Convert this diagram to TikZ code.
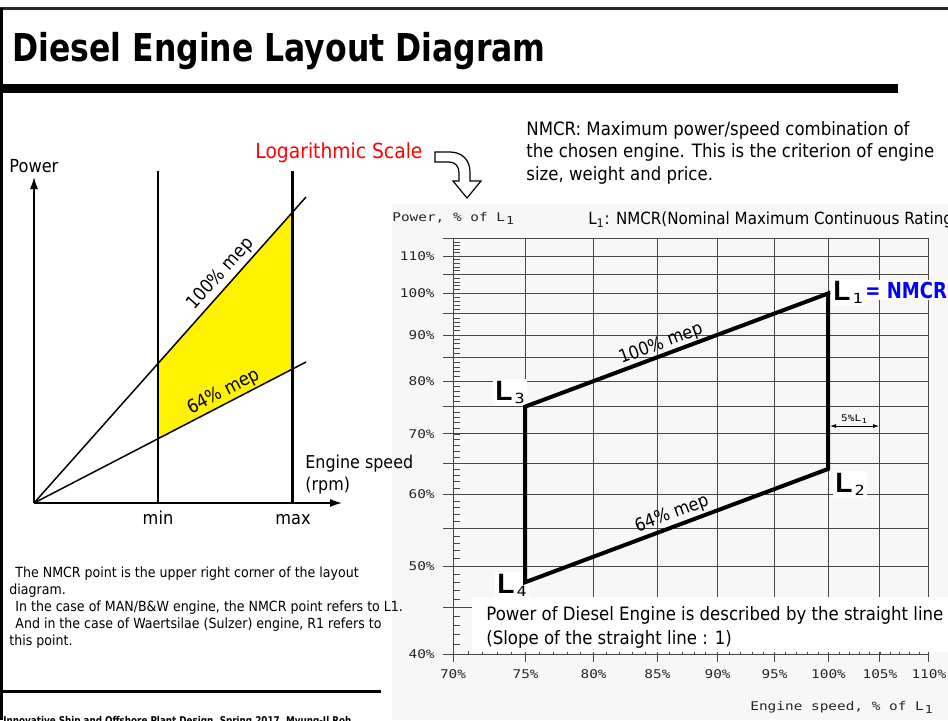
\documentclass[tikz,border=0pt]{standalone}
\usepackage{fontspec}
\usetikzlibrary{arrows.meta}
\newfontfamily\tah[FakeStretch=0.9]{DejaVu Sans}
\newfontfamily\ttl[FakeStretch=0.82]{DejaVu Sans}
\newfontfamily\plt[FakeStretch=1.2]{DejaVu Sans Mono}
\newfontfamily\lfont{Liberation Sans}
\newcommand\fsz[1]{\fontsize{#1}{#1}\selectfont}
\newcommand\lsub[1]{\kern0.5pt\raisebox{-1.6pt}{\plt\fsz{5.5pt}#1}}
\newcommand\bigsub[1]{\kern1pt\raisebox{-1.8pt}{\plt\fsz{7pt}\mdseries#1}}
\tikzset{
  txt/.style={inner sep=0pt, anchor=base west},
  body/.style={txt, font=\tah\fsz{9.2pt}},
  small/.style={txt, font=\tah\fsz{7pt}},
  gridl/.style={draw=black!72, line width=0.5pt},
  plotlab/.style={inner sep=0pt, font=\plt\fsz{6pt}, text=black!85},
  bigL/.style={anchor=base west, inner sep=1pt, fill=white, font=\lfont\bfseries\fsz{14pt}},
  thinline/.style={line width=0.75pt},
  axisarrow/.style={line width=0.75pt, -{Latex[length=6pt,width=4pt]}},
  layout/.style={line width=2pt, line join=miter}
}
\begin{document}
\begin{tikzpicture}[x=0.5pt,y=-0.5pt]
\useasboundingbox (0,0) rectangle (948,720);
\fill[white] (0,0) rectangle (948,720);
\fill[black!3] (392,204) rectangle (948,720);
% frame
\draw[black!85, line width=1.5pt] (0,8.5) -- (948,8.5);
\draw[black, line width=1.6pt] (1.6,8) -- (1.6,720);
\fill[black] (0,84) rectangle (898,93);
\node[txt] (title) at (12,61) {\ttl\bfseries\fsz{19.2pt}Diesel Engine Layout Diagram};

% ---------------- left chart
\coordinate (O) at (34,503);
\coordinate (Ytip) at (34,177);
\coordinate (Xtip) at (342,503);
\coordinate (mintop) at (158,171);
\coordinate (minbot) at (158,503);
\coordinate (maxtop) at (292,171);
\coordinate (maxbot) at (292,503);
\coordinate (m100) at (306,197);
\coordinate (m64) at (306,362);
\fill[yellow] (158,363.5) -- (292,212.7) -- (292,369.3) -- (158,438.7) -- cycle;
\draw[thinline] (O) -- (m100);
\draw[thinline] (O) -- (m64);
\draw[line width=1pt] (mintop) -- (minbot);
\draw[line width=1.5pt] (maxtop) -- (maxbot);
\draw[axisarrow] (O) -- (Ytip);
\draw[axisarrow] (O) -- (Xtip);
\node[txt, font=\tah\fsz{9pt}] (power) at (9,172) {Power};
\node[txt, font=\tah\fsz{8.85pt}] (espeed) at (305,468) {Engine speed};
\node[txt, font=\tah\fsz{8.85pt}] (rpm) at (305,490) {(rpm)};
\node[inner sep=0pt, anchor=base, font=\tah\fsz{9pt}] (min) at (158,524) {min};
\node[inner sep=0pt, anchor=base, font=\tah\fsz{9pt}] (max) at (293,524) {max};
\node[inner sep=0pt, rotate=48.4, font=\tah\fsz{9.2pt}] (lab100) at (221,274) {100\% mep};
\node[inner sep=0pt, rotate=27.4, font=\tah\fsz{9.2pt}] (lab64) at (224,392) {64\% mep};

% ---------------- logarithmic scale and hollow arrow
\node[txt, font=\tah\fsz{10.4pt}, text=red] (logs) at (255,158) {Logarithmic Scale};
\draw[line width=0.6pt, fill=white] (435,152) -- (450,152) .. controls (462,152) and (470,160) .. (470,172) -- (470,181) -- (481,181) -- (467,198) -- (453,181) -- (459,181) -- (459,173) .. controls (459,166) and (455,162) .. (449,162) -- (435,162) -- cycle;

% ---------------- NMCR text
\node[body] (n1) at (526,135) {NMCR: Maximum power/speed combination of};
\node[body] (n2) at (526,157.5) {the chosen engine. This is the criterion of engine};
\node[body] (n3) at (526,180) {size, weight and price.};
\node[txt, font=\tah\fsz{8.4pt}] (l1def) at (588,224) {L\textsubscript{1}: NMCR(Nominal Maximum Continuous Rating};

% ---------------- right chart grid
\foreach \s in {75,80,85,90,95,100,105,110}{
  \pgfmathsetmacro\xx{453+1053*ln(\s/70)}
  \draw[gridl] (\xx,238) -- (\xx,662);
}
\draw[gridl] (453,238) -- (453,662);
\foreach \pp in {40,45,...,110}{
  \pgfmathsetmacro\yy{654-393.4*ln(\pp/40)}
  \draw[gridl] (443,\yy) -- (929,\yy);
}
\draw[gridl] (443,238) -- (929,238);
\foreach \pp in {41,...,115}{
  \pgfmathsetmacro\yy{654-393.4*ln(\pp/40)}
  \draw[gridl, line width=0.35pt] (453,\yy) -- (460,\yy);
}
\foreach \s in {71,...,109}{
  \pgfmathsetmacro\xx{453+1053*ln(\s/70)}
  \draw[gridl, line width=0.35pt] (\xx,654) -- (\xx,650.5);
}
\foreach \pp in {40,50,...,110}{
  \pgfmathsetmacro\yy{654-393.4*ln(\pp/40)}
  \node[plotlab, anchor=east] (yl\pp) at (435,\yy) {\pp\%};
}
\foreach \s in {70,75,...,110}{
  \pgfmathsetmacro\xx{453+1053*ln(\s/70)}
  \node[plotlab, anchor=base] (xl\s) at (\xx,678) {\s\%};
}
\node[plotlab, anchor=base west] (ptitle) at (392,221) {Power, \% of L\lsub{1}};
\node[plotlab, anchor=base west] (stitle) at (750,710) {Engine speed, \% of L\lsub{1}};

% white box for text
\fill[white] (472,597) rectangle (948,652);
\node[body] (d1) at (486,620.5) {Power of Diesel Engine is described by the straight line};
\node[body] (d2) at (486,644) {(Slope of the straight line : 1)};

% ---------------- layout diagram
\coordinate (L1c) at (828,293.5);
\coordinate (L2c) at (828,469);
\coordinate (L3c) at (525,406.7);
\coordinate (L4c) at (525,582.3);
\node[bigL] (L1) at (831,300) {L\bigsub{1}};
\node[bigL] (L2) at (833,492) {L\bigsub{2}};
\node[bigL] (L3) at (493,400) {L\bigsub{3}};
\node[bigL] (L4) at (495,593) {L\bigsub{4}};
\node[txt, inner sep=1pt, fill=white, font=\ttl\bfseries\fsz{11pt}, text=blue] (nmcr) at (863,298) {= NMCR};
\draw[layout] (L1c) -- (L2c) -- (L4c) -- (L3c) -- cycle;
\node[inner sep=0pt, rotate=20.5, font=\tah\fsz{9pt}] (r100) at (661,344) {100\% mep};
\node[inner sep=0pt, rotate=20.5, font=\tah\fsz{9pt}] (r64) at (672,514) {64\% mep};

% 5% L1 dimension
\coordinate (dimA) at (830,426);
\coordinate (dimB) at (879,426);
\draw[line width=0.4pt, {Latex[length=3pt,width=2pt]}-{Latex[length=3pt,width=2pt]}] (dimA) -- (dimB);
\node[inner sep=0pt, anchor=base, font=\plt\fsz{4.6pt}] (dimlab) at (854,421) {5\%L\kern0.3pt\raisebox{-1pt}{\fsz{3.5pt}1}};

% ---------------- bottom left text
\node[small] (b1) at (15,577) {The NMCR point is the upper right corner of the layout};
\node[small] (b2) at (9,594) {diagram.};
\node[small] (b3) at (15,611) {In the case of MAN/B\&W engine, the NMCR point refers to L1.};
\node[small] (b4) at (15,628) {And in the case of Waertsilae (Sulzer) engine, R1 refers to};
\node[small] (b5) at (9,645) {this point.};

% footer
\draw[line width=1.25pt] (0,691.5) -- (381,691.5);
\node[txt, font=\ttl\bfseries\fsz{5.35pt}] (foot) at (3,724.5) {Innovative Ship and Offshore Plant Design, Spring 2017, Myung-Il Roh};
\end{tikzpicture}
\end{document}
